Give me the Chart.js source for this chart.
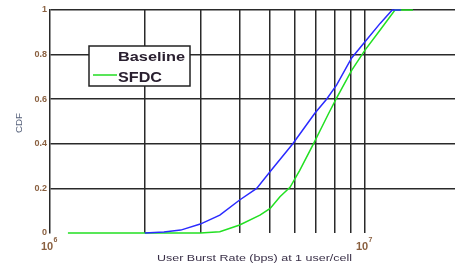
<!DOCTYPE html>
<html>
<head>
<meta charset="utf-8">
<script src="https://cdn.jsdelivr.net/npm/chart.js@4"></script>
<style>
html,body{margin:0;padding:0;background:#fff;}
#wrap{position:relative;width:455px;height:267px;}
</style>
</head>
<body>
<div id="wrap"><canvas id="c" width="455" height="267"></canvas></div>
<script>
// ---- data ----
const baselineRate = [2.0e6, 2.3e6, 2.6e6, 3.0e6, 3.46e6, 4.0e6, 4.53e6, 5.06e6, 5.9e6, 6.93e6, 7.55e6, 8.13e6, 9.07e6, 1.0e7, 1.117e7, 1.22e7, 1.3e7];
const baselineCdf  = [0, 0.005, 0.013, 0.04, 0.08, 0.148, 0.2, 0.285, 0.4, 0.537, 0.6, 0.664, 0.785, 0.858, 0.94, 1.0, 1.0];
const sfdcRate = [1.14e6, 3.0e6, 3.46e6, 4.0e6, 4.64e6, 5.0e6, 5.37e6, 5.78e6, 6.2e6, 6.86e6, 7.67e6, 8.09e6, 9.08e6, 1.0e7, 1.117e7, 1.245e7, 1.42e7];
const sfdcCdf  = [0, 0, 0.006, 0.036, 0.08, 0.11, 0.163, 0.205, 0.28, 0.4, 0.537, 0.6, 0.73, 0.82, 0.91, 1.0, 1.0];
const xGridValues = [1e6, 2e6, 3e6, 4e6, 5e6, 6e6, 7e6, 8e6, 9e6, 1e7];
const xTickLabels = [{value: 1e6, base: "10", exp: "6"}, {value: 1e7, base: "10", exp: "7"}];
const yTicks = [0, 0.2, 0.4, 0.6, 0.8, 1];
const seriesNames = ["Baseline", "SFDC"];
const xTitle = "User Burst Rate (bps) at 1 user/cell";
const yTitle = "CDF";

const toPts = (xs, ys) => xs.map((x, i) => ({x: x, y: ys[i]}));

function drawFit(ctx, text, x, y, font, targetW, align) {
  ctx.save();
  ctx.font = font;
  const w = ctx.measureText(text).width;
  const s = targetW ? targetW / w : 1;
  let x0 = x;
  if (align === 'center') x0 = x - w * s / 2;
  else if (align === 'right') x0 = x - w * s;
  ctx.translate(x0, y);
  ctx.scale(s, 1);
  ctx.textAlign = 'left';
  ctx.fillText(text, 0, 0);
  ctx.restore();
}

const decor = {
  id: 'decor',
  afterDatasetsDraw(chart) {
    const ctx = chart.ctx;
    const xs = chart.scales.x;
    ctx.save();
    // x tick labels 10^n
    ctx.fillStyle = '#8a6040';
    ctx.textBaseline = 'alphabetic';
    xTickLabels.forEach(t => {
      const px = xs.getPixelForValue(t.value);
      ctx.font = 'bold 11px "Liberation Sans", Arial, sans-serif';
      ctx.textAlign = 'center';
      ctx.fillText(t.base, px - 3, 250);
      const w = ctx.measureText(t.base).width;
      ctx.font = 'bold 7px "Liberation Sans", Arial, sans-serif';
      ctx.textAlign = 'left';
      ctx.fillText(t.exp, px - 3 + w / 2 + 0.5, 242);
    });
    // x title
    ctx.fillStyle = '#3a3048';
    drawFit(ctx, xTitle, 157, 261, '9.5px "Liberation Sans", Arial, sans-serif', 195, 'left');
    // y title
    ctx.save();
    ctx.translate(22, 123);
    ctx.rotate(-Math.PI / 2);
    ctx.fillStyle = '#55607a';
    drawFit(ctx, yTitle, 0, 0, '9px "Liberation Sans", Arial, sans-serif', 20, 'center');
    ctx.restore();
    // legend
    ctx.fillStyle = '#ffffff';
    ctx.fillRect(89, 46, 101, 40);
    ctx.strokeStyle = '#222';
    ctx.lineWidth = 1.5;
    ctx.strokeRect(89, 46, 101, 40);
    ctx.strokeStyle = '#22dd22';
    ctx.lineWidth = 1.5;
    ctx.beginPath();
    ctx.moveTo(93, 75);
    ctx.lineTo(117, 75);
    ctx.stroke();
    ctx.fillStyle = '#2a2030';
    drawFit(ctx, seriesNames[0], 118, 60.5, 'bold 12px "Liberation Sans", Arial, sans-serif', 67, 'left');
    drawFit(ctx, seriesNames[1], 118, 81.5, 'bold 15px "Liberation Sans", Arial, sans-serif', 44, 'left');
    ctx.restore();
  }
};

new Chart(document.getElementById('c'), {
  type: 'line',
  data: {
    datasets: [
      {label: seriesNames[0], data: toPts(baselineRate, baselineCdf), borderColor: '#2a2aff', borderWidth: 1.5, pointRadius: 0, tension: 0, fill: false, clip: 3},
      {label: seriesNames[1], data: toPts(sfdcRate, sfdcCdf), borderColor: '#22e022', borderWidth: 1.5, pointRadius: 0, tension: 0, fill: false, clip: 3}
    ]
  },
  options: {
    responsive: false,
    animation: false,
    devicePixelRatio: 1,
    layout: {padding: {top: 10, right: 0, left: 0, bottom: 0}},
    plugins: {legend: {display: false}, tooltip: {enabled: false}},
    scales: {
      x: {
        type: 'logarithmic',
        min: 1e6,
        max: Math.pow(10, 6 + 405 / 315),
        afterBuildTicks: s => { s.ticks = xGridValues.map(v => ({value: v})); },
        afterFit: s => { s.height = 34; },
        ticks: {display: false},
        grid: {
          drawTicks: false,
          color: c => (c.tick && c.tick.value === 1e6) ? 'rgba(0,0,0,0)' : '#2a2a2a',
          lineWidth: 1.5
        },
        border: {display: false}
      },
      y: {
        min: 0, max: 1,
        afterBuildTicks: s => { s.ticks = yTicks.map(v => ({value: v})); },
        afterFit: s => { s.width = 50; },
        ticks: {
          color: '#8a6040',
          font: {family: '"Liberation Sans", Arial, sans-serif', size: 9, weight: 'bold'},
          padding: 3,
          callback: v => String(Math.round(v * 10) / 10)
        },
        grid: {
          drawTicks: false,
          color: c => (c.tick && c.tick.value === 0) ? 'rgba(0,0,0,0)' : '#2a2a2a',
          lineWidth: 1.5
        },
        border: {display: true, color: '#2a2a2a', width: 1.5}
      }
    }
  },
  plugins: [decor]
});
</script>
</body>
</html>
